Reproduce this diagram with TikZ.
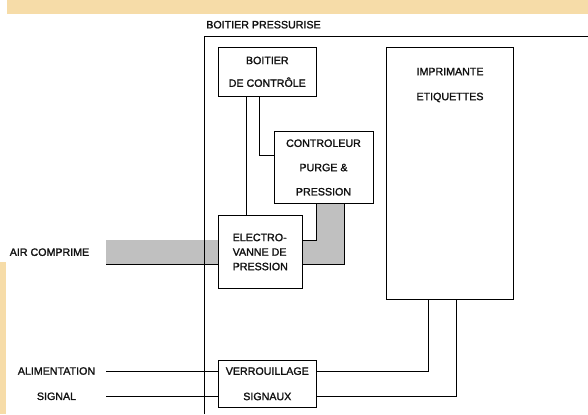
\documentclass[tikz,border=0pt]{standalone}
\usepackage{fontspec}
\setmainfont{Liberation Sans}[FakeBold=1.6]
\usepackage{tikz}
\usetikzlibrary{positioning,calc}
\definecolor{bandbg}{HTML}{F6DCA8}
\definecolor{pipegray}{HTML}{C0C0C0}
\definecolor{textdark}{HTML}{111111}
\tikzset{
  txt/.style={font=\fontsize{8}{10}\selectfont,text=textdark,inner sep=0pt},
  blockbox/.style={draw,line width=0.6pt,txt,align=center},
  wire/.style={line width=0.6pt},
  pipe/.style={fill=pipegray}
}

\begin{document}
\begin{tikzpicture}[x=0.75pt,y=-0.75pt]
  \useasboundingbox (0,0) rectangle (588,414);
  % background bands
  \fill[bandbg] (7,0) rectangle (588,14);
  \fill[bandbg] (0,262) rectangle (6,414);

  % blocks
  \node[blockbox,minimum width=74pt,minimum height=36.2pt] (ctrl) at (267.3,71.8)
    {BOITIER\\[7pt]DE CONTRÔLE};
  \node[blockbox,minimum width=74.3pt,minimum height=54.3pt] (purge) at (323.5,167.5)
    {CONTROLEUR\\[8.2pt]PURGE \&\\[8.2pt]PRESSION};
  \node[blockbox,align=left,minimum width=63.5pt,minimum height=54.5pt] (vanne) at (260.3,252)
    {ELECTRO-\\[0.9pt]VANNE DE\\[0.9pt]PRESSION};
  \node[blockbox,minimum width=95pt,minimum height=189pt] (imp) at (450,173.3) {};
  \node[txt,align=center,below=15.5pt of imp.north] (imptxt)
    {IMPRIMANTE\\[8.75pt]ETIQUETTES};
  \node[blockbox,minimum width=74pt,minimum height=35.8pt] (verr) at (267.3,383.8)
    {VERROUILLAGE\\[9pt]SIGNAUX};

  % outside labels
  \node[txt] (boitier) at (263.5,24.7) {BOITIER PRESSURISE};
  \node[txt] (air) at (49.5,252.2) {AIR COMPRIME};
  \node[txt] (alim) at (56.5,371) {ALIMENTATION};
  \node[txt] (sig) at (56.5,396.3) {SIGNAL};
  \coordinate (airin) at (106,240);
  \coordinate (alimin) at (106,371);
  \coordinate (sigin) at (106,396.3);

  % air pipes
  \fill[pipe] (airin) rectangle (vanne.west |- 0,264.3);
  \draw[wire] (106,264.3) -- (vanne.west |- 0,264.3);
  \fill[pipe] (vanne.east |- 0,240) -- (316,240) -- (316,0 |- purge.south)
    -- (344.3,0 |- purge.south) -- (344.3,264.3) -- (vanne.east |- 0,264.3) -- cycle;
  \draw[wire] (vanne.east |- 0,240) -- (316,240) -- (316,0 |- purge.south);
  \draw[wire] (344.3,0 |- purge.south) -- (344.3,264.3) -- (vanne.east |- 0,264.3);

  % pressurised housing
  \draw[wire] (204,414) -- (204,36) -- (588,36);

  % connections
  \draw[wire] ([xshift=21.5pt]ctrl.south west) -- ([xshift=21.5pt]ctrl.south west |- vanne.north);
  \draw[wire] ([xshift=31.5pt]ctrl.south west) |- ([yshift=-18.5pt]purge.north west);
  \draw[wire] (alimin) -- (alimin -| verr.west);
  \draw[wire] (sigin) -- (sigin -| verr.west);
  \draw[wire] (alimin -| verr.east) -| ([xshift=31.5pt]imp.south west);
  \draw[wire] (sigin -| verr.east) -| ([xshift=52.5pt]imp.south west);
\end{tikzpicture}
\end{document}
